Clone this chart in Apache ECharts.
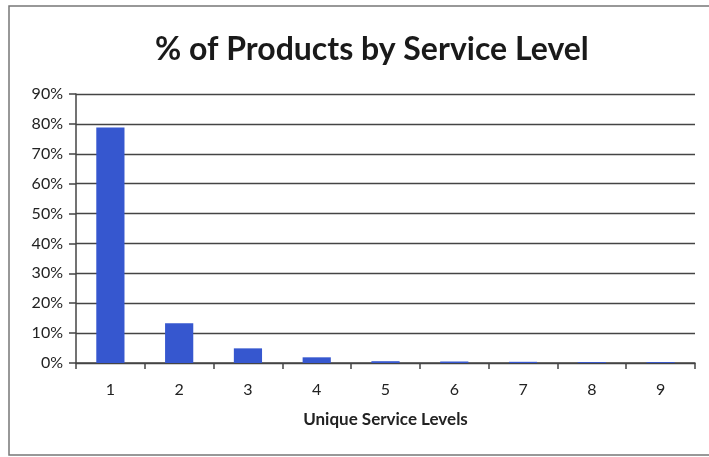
<!DOCTYPE html>
<html><head><meta charset="utf-8">
<script src="https://cdn.jsdelivr.net/npm/echarts@6/dist/echarts.min.js"></script>
<style>html,body{margin:0;padding:0;background:#fff}#c{width:709px;height:457px}</style>
</head><body><div id="c"></div>
<script>
const categories = ['1','2','3','4','5','6','7','8','9'];
const values = [78.8, 13.3, 4.9, 1.9, 0.6, 0.5, 0.4, 0.3, 0.3];
const yTicks = [0,10,20,30,40,50,60,70,80,90];
const titleText = '% of Products by Service Level';
const xTitle = 'Unique Service Levels';

const font = 'Lato, "Open Sans", sans-serif';
const chart = echarts.init(document.getElementById('c'));
chart.setOption({
  animation:false,
  backgroundColor:'#fff',
  graphic:[{type:'rect',shape:{x:9,y:6,width:720,height:449},style:{fill:'none',stroke:'#777',lineWidth:1.5},z:-1}],
  title:{text:titleText,left:150,top:29,textStyle:{fontFamily:font,fontSize:32,fontWeight:'bold',color:'#1a1a1a'}},
  grid:{left:76,right:14,top:94,bottom:94,containLabel:false},
  xAxis:{type:'category',data:categories,
    name:xTitle,nameLocation:'middle',nameGap:48,
    nameTextStyle:{fontFamily:font,fontSize:17,fontWeight:'bold',color:'#222'},
    axisLine:{lineStyle:{color:'#444',width:1.5}},
    axisTick:{show:true,length:6,lineStyle:{color:'#444',width:1.5}},
    axisLabel:{fontFamily:font,fontSize:16,color:'#222',margin:19}},
  yAxis:{type:'value',min:0,max:90,interval:10,
    axisLine:{show:true,lineStyle:{color:'#444',width:1.5}},
    axisTick:{show:true,length:7,lineStyle:{color:'#444',width:1.5}},
    axisLabel:{fontFamily:font,fontSize:16,color:'#222',margin:13,
      formatter:v=>yTicks.includes(v)?v+'%':''},
    splitLine:{lineStyle:{color:'#444',width:1.3}}},
  series:[{type:'bar',data:values,barWidth:'41%',itemStyle:{color:'#3657cf'}}]
});
</script></body></html>
